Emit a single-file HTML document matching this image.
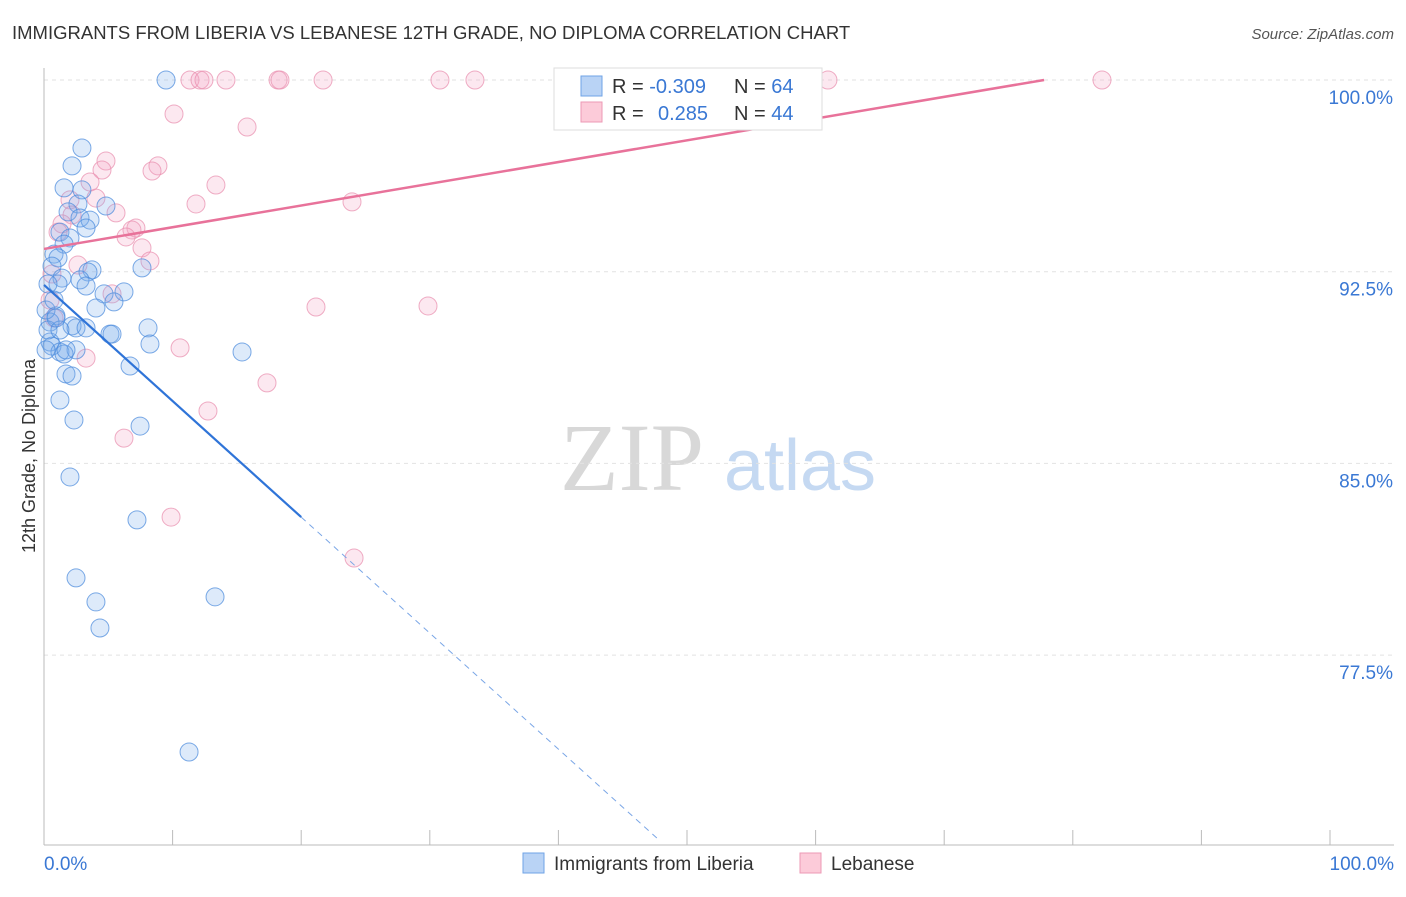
<!DOCTYPE html>
<html><head><meta charset="utf-8"><style>
body{margin:0;background:#fff;font-family:"Liberation Sans",sans-serif}
</style></head><body>
<svg id="c" width="1406" height="892" xmlns="http://www.w3.org/2000/svg" style="font-family:'Liberation Sans',sans-serif">
<text x="12" y="39" font-size="18.5" fill="#333">IMMIGRANTS FROM LIBERIA VS LEBANESE 12TH GRADE, NO DIPLOMA CORRELATION CHART</text>
<text x="1394" y="39" font-size="15" fill="#555" font-style="italic" text-anchor="end">Source: ZipAtlas.com</text>
<g>
<text x="632" y="490" font-size="96" fill="#d8d8d8" font-family="Liberation Serif,serif" text-anchor="middle">ZIP</text>
<text x="800" y="490" font-size="72" fill="#c5d9f2" text-anchor="middle">atlas</text>
</g>
<g id="grid"></g><g id="axes"></g><g id="pts"></g><g id="lines"></g>
<text transform="translate(35,456) rotate(-90)" font-size="18" fill="#333" text-anchor="middle">12th Grade, No Diploma</text>
<text x="44" y="870" font-size="19" fill="#3a78d4">0.0%</text>
<text x="1394" y="870" font-size="19" fill="#3a78d4" text-anchor="end">100.0%</text>
<g>
<rect x="554" y="68" width="268" height="62" fill="#fff" stroke="#ddd"/>
<rect x="581" y="76" width="21" height="20" fill="#b9d3f5" stroke="#6fa3e6"/>
<rect x="581" y="102" width="21" height="20" fill="#fccbd9" stroke="#ec9ab5"/>
<text x="612" y="93" font-size="20" fill="#333">R = <tspan fill="#3a78d4">-0.309</tspan><tspan x="734">N = </tspan><tspan fill="#3a78d4">64</tspan></text>
<text x="612" y="120" font-size="20" fill="#333">R = <tspan x="658" fill="#3a78d4">0.285</tspan><tspan x="734">N = </tspan><tspan fill="#3a78d4">44</tspan></text>
</g>
<g>
<rect x="523" y="853" width="21" height="20" fill="#b9d3f5" stroke="#6fa3e6"/>
<text x="554" y="870" font-size="19" fill="#333">Immigrants from Liberia</text>
<rect x="800" y="853" width="21" height="20" fill="#fccbd9" stroke="#ec9ab5"/>
<text x="831" y="870" font-size="19" fill="#333">Lebanese</text>
</g>
</svg>
<script>
const yTicks=[100,92.5,85,77.5];
const yTickLabels=["100.0%","92.5%","85.0%","77.5%"];
const blueX=[9.49,2.95,2.18,1.56,2.95,2.64,4.82,1.87,2.80,3.58,3.27,1.24,2.02,1.56,0.78,1.09,0.62,3.73,3.42,7.62,1.40,2.80,1.09,0.31,3.27,4.67,6.22,5.44,4.04,0.93,0.47,2.18,2.49,3.27,5.13,8.09,8.24,0.47,0.62,1.24,2.49,1.56,15.40,6.69,1.71,2.18,1.24,2.33,7.47,2.02,7.23,2.49,4.04,13.30,4.35,11.28,0.31,0.16,0.78,1.24,5.29,1.71,0.16,0.93];
const blueY=[100,97.34,96.64,95.78,95.70,95.15,95.07,94.84,94.60,94.52,94.21,94.05,93.82,93.58,93.19,93.04,92.72,92.57,92.49,92.65,92.25,92.18,92.02,92.02,91.94,91.63,91.71,91.32,91.08,90.77,90.53,90.38,90.30,90.30,90.06,90.30,89.67,89.75,89.59,89.36,89.44,89.28,89.36,88.81,88.50,88.42,87.48,86.70,86.46,84.47,82.79,80.52,79.58,79.78,78.56,73.71,90.22,91.00,91.39,90.22,90.06,89.44,89.44,90.69];
const pinkX=[11.35,12.13,14.15,12.44,18.20,18.35,21.70,30.79,33.51,60.96,82.27,10.11,15.79,4.82,8.86,4.51,8.40,3.58,13.37,4.04,2.02,11.82,23.95,5.60,2.18,1.40,7.15,1.09,6.84,6.38,7.62,8.24,2.64,0.62,5.29,0.47,21.15,29.86,0.78,10.58,3.27,17.34,12.75,6.22,9.88,24.11];
const pinkY=[100,100,100,100,100,100,100,100,100,100,100,98.67,98.16,96.83,96.64,96.48,96.44,96.01,95.89,95.38,95.31,95.15,95.23,94.80,94.72,94.37,94.21,94.05,94.13,93.86,93.43,92.92,92.76,92.41,91.63,91.39,91.12,91.16,90.69,89.52,89.12,88.15,87.05,85.99,82.90,81.30];
const blueTrend=[91.98,-0.454];
const pinkTrend=[93.39,0.085];
const X=v=>44+v*12.86, Y=v=>80+(100-v)*25.56;
const NS="http://www.w3.org/2000/svg";
function mk(t,a,p){const e=document.createElementNS(NS,t);for(const k in a)e.setAttribute(k,a[k]);document.getElementById(p).appendChild(e);return e;}
yTicks.forEach((t,i)=>{
 const g=mk('line',{x1:44,x2:1394,y1:Y(t),y2:Y(t),stroke:'#e2e2e2','stroke-dasharray':'4,4'},'grid');
 
 
 const l=mk('text',{x:1393,y:Y(t)+24,'font-size':19,fill:'#3a78d4','text-anchor':'end'},'grid');
 l.textContent=yTickLabels[i];
 
 
});
const ya=mk('line',{x1:44,x2:44,y1:68,y2:845,stroke:'#bbb'},'axes');


const xa=mk('line',{x1:44,x2:1394,y1:845,y2:845,stroke:'#bbb'},'axes');


for(let i=0;i<=10;i++){const t=mk('line',{x1:X(i*10),x2:X(i*10),y1:830,y2:845,stroke:'#bbb'},'axes');
 
 }
function pts(xs,ys,fill,stroke,name){xs.forEach((x,i)=>{const c=mk('circle',{cx:X(x),cy:Y(ys[i]),r:9,fill:fill,stroke:stroke,'stroke-width':1},'pts');
 
 });}
pts(pinkX,pinkY,'rgba(245,165,195,0.25)','rgba(232,140,172,0.7)','lebanese-point');
pts(blueX,blueY,'rgba(120,170,235,0.25)','rgba(70,135,220,0.7)','liberia-point');
const yb=x=>blueTrend[0]+blueTrend[1]*x, yp=x=>pinkTrend[0]+pinkTrend[1]*x;
const xEnd=(100-pinkTrend[0])/pinkTrend[1];
const pl=mk('line',{x1:X(0),y1:Y(yp(0)),x2:X(xEnd),y2:Y(100),stroke:'#e8729a','stroke-width':2.5},'lines');


const bl=mk('line',{x1:X(0),y1:Y(yb(0)),x2:X(20),y2:Y(yb(20)),stroke:'#2f74d8','stroke-width':2.2},'lines');


const vEnd=100-(840-80)/25.56;
const bx=(vEnd-blueTrend[0])/blueTrend[1];
const bd=mk('line',{x1:X(20),y1:Y(yb(20)),x2:X(bx),y2:Y(yb(bx)),stroke:'#7aa6e6','stroke-width':1,'stroke-dasharray':'6,5'},'lines');


</script>
</body></html>
